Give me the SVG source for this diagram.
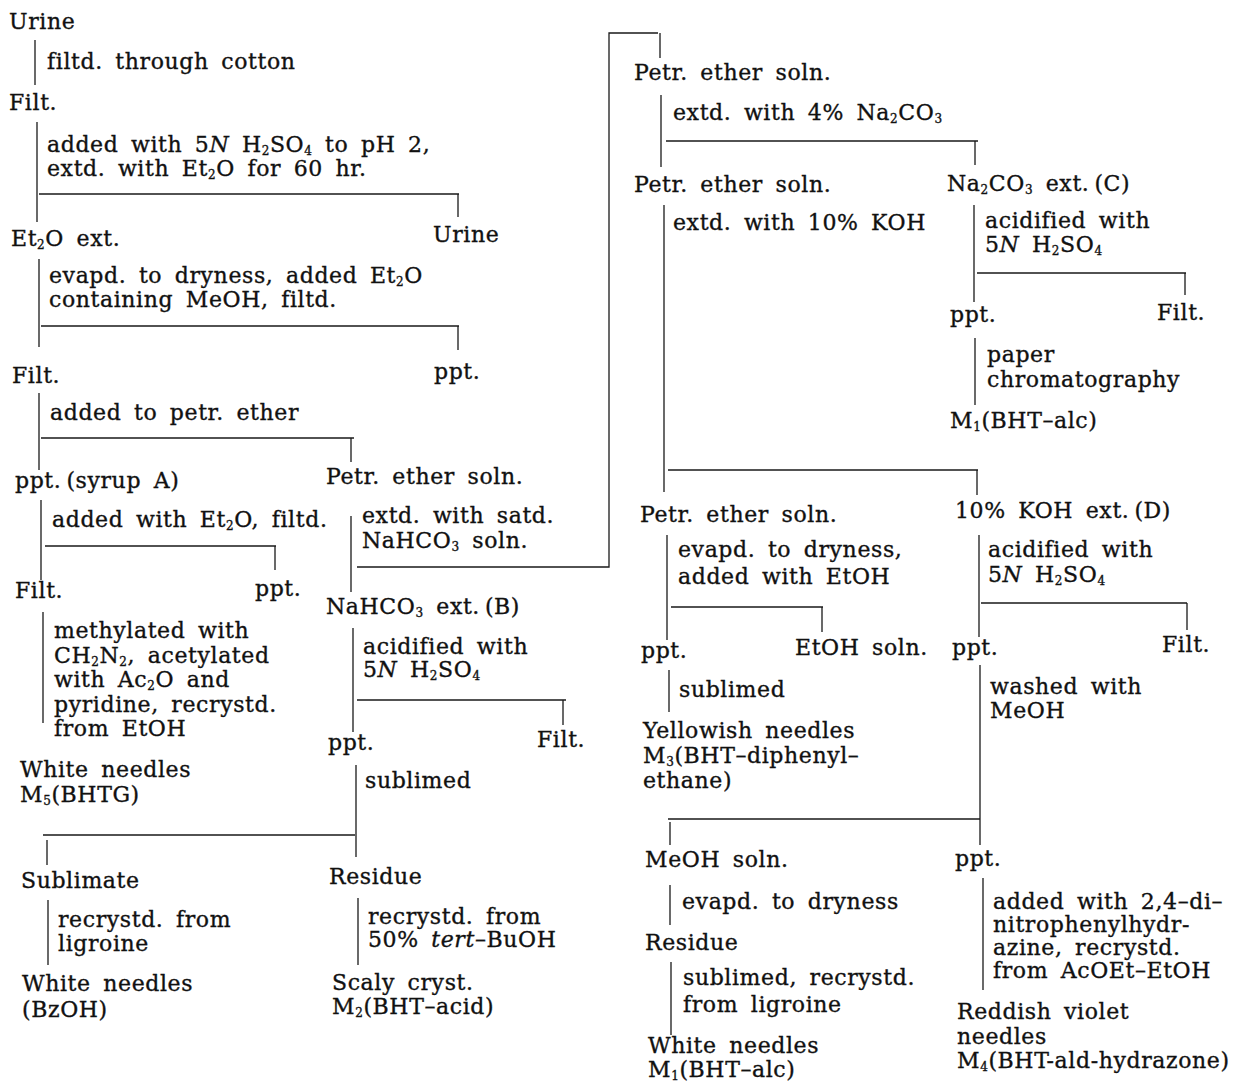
<svg xmlns="http://www.w3.org/2000/svg" width="1247" height="1084" viewBox="0 0 1247 1084">
<style>
text{font-family:"DejaVu Serif","Liberation Serif",serif;font-size:22px;letter-spacing:0.6px;word-spacing:5px;fill:#111;stroke:#111;stroke-width:0.35px}
.sb{font-size:12px;baseline-shift:-3px}
.i{font-style:italic}
#connectors path{fill:none;stroke:#1a1a1a;stroke-width:1.3}
</style>
<rect width="1247" height="1084" fill="#fff"/>
<g id="connectors">
<path d="M35,40V85"/>
<path d="M37,122V222"/>
<path d="M39,194H459M458,194V217"/>
<path d="M39,259V347"/>
<path d="M41,326H459M458,326V350"/>
<path d="M39,393V470"/>
<path d="M41,438H354M351,438V462"/>
<path d="M41,500V580"/>
<path d="M45,546H276M275,546V570"/>
<path d="M43,612V723"/>
<path d="M351,516V592"/>
<path d="M357,567H609V33H658M660,33V58"/>
<path d="M353,628V732"/>
<path d="M357,700H566M563,700V725"/>
<path d="M356,765V857"/>
<path d="M43,835H355M47,840V865"/>
<path d="M48,900V965"/>
<path d="M358,898V965"/>
<path d="M661,95V167"/>
<path d="M666,141H978M975,141V165"/>
<path d="M664,205V492"/>
<path d="M668,470H978M977,470V495"/>
<path d="M974,205V302"/>
<path d="M977,273H1186M1185,273V295"/>
<path d="M975,338V405"/>
<path d="M667,535V640"/>
<path d="M671,607H823M822,607V632"/>
<path d="M979,535V637"/>
<path d="M981,603H1187M1187,603V630"/>
<path d="M669,670V712"/>
<path d="M980,665V845"/>
<path d="M668,819H980M670,822V845"/>
<path d="M670,885V925"/>
<path d="M671,962V1035"/>
<path d="M983,878V990"/>
</g>
<g id="n-urine"><text x="9" y="29">Urine</text></g>
<g id="s-filter-cotton"><text x="47" y="69">filtd. through cotton</text></g>
<g id="n-filt1"><text x="9" y="110">Filt.</text></g>
<g id="s-acidify-extract"><text x="47" y="152">added with 5<tspan class="i">N</tspan> H<tspan class="sb">2</tspan>SO<tspan class="sb">4</tspan> to pH 2,<tspan x="47" dy="24">extd. with Et<tspan class="sb">2</tspan>O for 60 hr.</tspan></text></g>
<g id="n-et2o-ext"><text x="11" y="246">Et<tspan class="sb">2</tspan>O ext.</text></g>
<g id="n-urine2"><text x="433" y="242">Urine</text></g>
<g id="s-evap-meoh"><text x="49" y="283">evapd. to dryness, added Et<tspan class="sb">2</tspan>O<tspan x="49" dy="24">containing MeOH, filtd.</tspan></text></g>
<g id="n-filt2"><text x="12" y="383">Filt.</text></g>
<g id="n-ppt1"><text x="434" y="379">ppt.</text></g>
<g id="s-petr"><text x="50" y="420">added to petr. ether</text></g>
<g id="n-syrupA"><text x="15" y="488">ppt.&#8201;(syrup A)</text></g>
<g id="n-petr1"><text x="326" y="484">Petr. ether soln.</text></g>
<g id="s-et2o-filtd"><text x="52" y="527">added with Et<tspan class="sb">2</tspan>O, filtd.</text></g>
<g id="n-filt3"><text x="15" y="598">Filt.</text></g>
<g id="n-ppt2"><text x="255" y="596">ppt.</text></g>
<g id="s-methylated"><text x="54" y="638">methylated with<tspan x="54" dy="24.5">CH<tspan class="sb">2</tspan>N<tspan class="sb">2</tspan>, acetylated</tspan><tspan x="54" dy="24.5">with Ac<tspan class="sb">2</tspan>O and</tspan><tspan x="54" dy="24.5">pyridine, recrystd.</tspan><tspan x="54" dy="24.5">from EtOH</tspan></text></g>
<g id="n-m5"><text x="20" y="777">White needles<tspan x="20" dy="25">M<tspan class="sb">5</tspan>(BHTG)</tspan></text></g>
<g id="s-nahco3"><text x="362" y="523">extd. with satd.<tspan x="362" dy="25">NaHCO<tspan class="sb">3</tspan> soln.</tspan></text></g>
<g id="n-extB"><text x="326" y="614">NaHCO<tspan class="sb">3</tspan> ext.&#8201;(B)</text></g>
<g id="s-acidB"><text x="363" y="654">acidified with<tspan x="363" dy="23">5<tspan class="i">N</tspan> H<tspan class="sb">2</tspan>SO<tspan class="sb">4</tspan></tspan></text></g>
<g id="n-ppt3"><text x="328" y="750">ppt.</text></g>
<g id="n-filt4"><text x="537" y="747">Filt.</text></g>
<g id="s-sublimed1"><text x="365" y="788">sublimed</text></g>
<g id="n-sublimate"><text x="21" y="888">Sublimate</text></g>
<g id="n-residue1"><text x="329" y="884">Residue</text></g>
<g id="s-ligroine1"><text x="58" y="927">recrystd. from<tspan x="58" dy="24">ligroine</tspan></text></g>
<g id="n-bzoh"><text x="22" y="991">White needles<tspan x="22" dy="26">(BzOH)</tspan></text></g>
<g id="s-tertbuoh"><text x="368" y="924">recrystd. from<tspan x="368" dy="23">50% <tspan class="i">tert</tspan>–BuOH</tspan></text></g>
<g id="n-m2"><text x="332" y="990">Scaly cryst.<tspan x="332" dy="24">M<tspan class="sb">2</tspan>(BHT–acid)</tspan></text></g>
<g id="n-petr2"><text x="634" y="80">Petr. ether soln.</text></g>
<g id="s-na2co3"><text x="673" y="120">extd. with 4% Na<tspan class="sb">2</tspan>CO<tspan class="sb">3</tspan></text></g>
<g id="n-petr3"><text x="634" y="192">Petr. ether soln.</text></g>
<g id="n-extC"><text x="947" y="191">Na<tspan class="sb">2</tspan>CO<tspan class="sb">3</tspan> ext.&#8201;(C)</text></g>
<g id="s-koh"><text x="673" y="230">extd. with 10% KOH</text></g>
<g id="s-acidC"><text x="985" y="228">acidified with<tspan x="985" dy="24">5<tspan class="i">N</tspan> H<tspan class="sb">2</tspan>SO<tspan class="sb">4</tspan></tspan></text></g>
<g id="n-ppt4"><text x="950" y="322">ppt.</text></g>
<g id="n-filt5"><text x="1157" y="320">Filt.</text></g>
<g id="s-paper"><text x="987" y="362">paper<tspan x="987" dy="25">chromatography</tspan></text></g>
<g id="n-m1a"><text x="950" y="428">M<tspan class="sb">1</tspan>(BHT–alc)</text></g>
<g id="n-petr4"><text x="640" y="522">Petr. ether soln.</text></g>
<g id="n-extD"><text x="955" y="518">10% KOH ext.&#8201;(D)</text></g>
<g id="s-evap-etoh"><text x="678" y="557">evapd. to dryness,<tspan x="678" dy="27">added with EtOH</tspan></text></g>
<g id="s-acidD"><text x="988" y="557">acidified with<tspan x="988" dy="25">5<tspan class="i">N</tspan> H<tspan class="sb">2</tspan>SO<tspan class="sb">4</tspan></tspan></text></g>
<g id="n-ppt5"><text x="641" y="658">ppt.</text></g>
<g id="n-etoh"><text x="795" y="655">EtOH soln.</text></g>
<g id="n-ppt6"><text x="952" y="655">ppt.</text></g>
<g id="n-filt6"><text x="1162" y="652">Filt.</text></g>
<g id="s-sublimed2"><text x="679" y="697">sublimed</text></g>
<g id="n-m3"><text x="643" y="738">Yellowish needles<tspan x="643" dy="25">M<tspan class="sb">3</tspan>(BHT–diphenyl–</tspan><tspan x="643" dy="25">ethane)</tspan></text></g>
<g id="s-wash"><text x="990" y="694">washed with<tspan x="990" dy="24">MeOH</tspan></text></g>
<g id="n-meoh"><text x="645" y="867">MeOH soln.</text></g>
<g id="n-ppt7"><text x="955" y="866">ppt.</text></g>
<g id="s-evap2"><text x="682" y="909">evapd. to dryness</text></g>
<g id="n-residue2"><text x="645" y="950">Residue</text></g>
<g id="s-sub-lig"><text x="683" y="985">sublimed, recrystd.<tspan x="683" dy="27">from ligroine</tspan></text></g>
<g id="n-m1b"><text x="648" y="1053">White needles<tspan x="648" dy="24">M<tspan class="sb">1</tspan>(BHT–alc)</tspan></text></g>
<g id="s-dnph"><text x="993" y="909">added with 2,4–di–<tspan x="993" dy="23">nitrophenylhydr-</tspan><tspan x="993" dy="23">azine, recrystd.</tspan><tspan x="993" dy="23">from AcOEt–EtOH</tspan></text></g>
<g id="n-m4"><text x="957" y="1019">Reddish violet<tspan x="957" dy="25">needles</tspan><tspan x="957" dy="24">M<tspan class="sb">4</tspan>(BHT-ald-hydrazone)</tspan></text></g>
</svg>
